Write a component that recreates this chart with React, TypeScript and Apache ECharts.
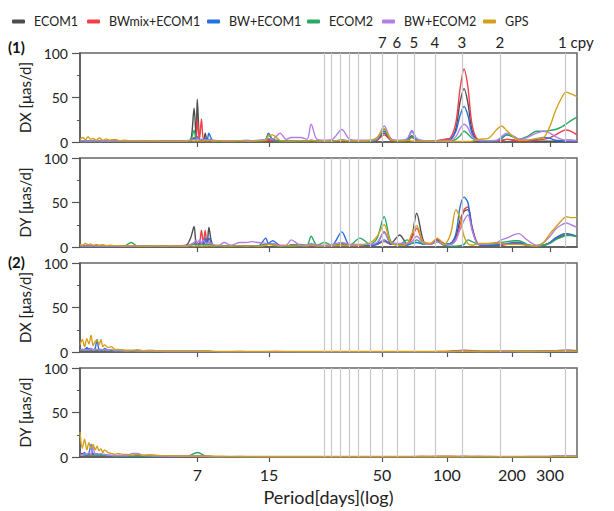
import React, { useEffect, useRef } from 'react';
import * as echarts from 'echarts';

const SERIES_NAMES = ['ECOM1', 'BWmix+ECOM1', 'BW+ECOM1', 'ECOM2', 'BW+ECOM2', 'GPS'];
const COLORS = ['#4d4d4d', '#f0404a', '#2470e0', '#2aa865', '#b47ee8', '#d4a01c'];
const X_TICKS = [7, 15, 50, 100, 200, 300];
const CPY_PERIODS = [351.4, 175.7, 117.1, 87.85, 70.28, 58.57, 50.2, 43.93, 39.04, 35.14, 31.95, 29.28, 27.03];
const CPY_LABELS = ['1 cpy', '2', '3', '4', '5', '6', '7'];
const PANEL_NAMES = ['DX [μas/d]', 'DY [μas/d]', 'DX [μas/d]', 'DY [μas/d]'];
const GROUP_LABELS = ['(1)', '(2)'];

// Period grid for group (1)
const P1 = [2.0, 2.06, 2.12, 2.18, 2.24, 2.3, 2.38, 2.46, 2.55, 2.65,
  2.75, 2.9, 3.05, 3.2, 3.45, 3.7, 4.0, 4.4, 4.8, 5.2,
  5.7, 6.2, 6.5, 6.75, 6.9, 6.98, 7.15, 7.3, 7.45, 7.6,
  7.75, 7.9, 8.2, 8.8, 9.3, 10.0, 11.0, 11.8, 12.5, 13.4,
  14.5, 14.9, 15.6, 16.9, 18.0, 19.0, 21.0, 22.5, 23.5, 25.0,
  27.0, 29.5, 32.6, 35.5, 39.5, 44.2, 47.5, 51.2, 55.0, 60.4,
  65.5, 68.8, 72.4, 78, 84, 90, 97, 104, 110, 115,
  120, 125, 131, 140, 155, 170, 179, 189, 205, 215,
  235, 260, 280, 300, 318, 340, 356, 375, 400];

// (1) DX
const DX1_ECOM1 = [1, 1.5, 1, 1.2, 1, 1.5, 1, 1.2, 1, 1,
  1, 1, 0.8, 1, 0.8, 1, 0.8, 1, 1, 1,
  1, 1.5, 2, 38, 3, 48, 3, 2, 1.5, 10,
  2, 3, 1.5, 1, 1, 1, 1, 1, 1, 1,
  2, 3, 2, 1, 1, 1, 1, 1, 1.5, 1,
  1, 1, 2, 1, 1, 1, 2, 10, 2, 1,
  2, 7, 1.5, 1, 1, 1.5, 2, 3, 15, 45,
  60, 44, 12, 2, 1, 1, 2, 3, 2, 1,
  1, 1, 1, 1, 1, 1.5, 2, 2, 1.5];
const DX1_BWMIX = [1, 1, 1.2, 1, 1.5, 1, 1, 1.2, 1, 1,
  1, 0.8, 1, 0.8, 1, 1, 0.8, 1, 1, 1,
  1, 1, 1.5, 5, 2, 26, 3, 26, 3, 4,
  2, 2, 1, 1, 1, 1, 1, 1, 1, 1,
  2, 2, 1.5, 1, 1, 1, 1, 1, 1, 1,
  1, 1, 1.5, 1, 1, 1, 2, 8, 2, 1,
  1.5, 5, 1.5, 1, 1, 1.5, 3, 5, 22, 60,
  82, 62, 18, 2, 1, 1, 1.5, 3, 2, 1,
  1, 2, 3, 5, 8, 12, 13.5, 12, 8];
const DX1_BW1 = [1, 1, 1, 1.3, 1, 1, 1.2, 1, 1, 1,
  0.8, 1, 1, 1, 1, 0.8, 1, 1, 1, 1,
  1, 1, 1.5, 4, 2, 6, 2, 3, 2, 4,
  2, 10, 2, 1, 1, 1, 1, 1, 1, 1.5,
  3, 10, 3, 1.5, 1, 1, 1, 1, 2, 1,
  1, 1, 2, 1, 1, 1, 3, 12, 3, 1.5,
  3, 12, 3, 1, 1, 1, 1.5, 3, 12, 30,
  40, 30, 9, 2, 1, 1.5, 4, 8, 6, 3,
  2, 3, 5, 4, 2, 1.5, 1, 1, 1];
const DX1_ECOM2 = [1, 1, 1, 1, 1.2, 1, 1, 1, 1.2, 1,
  1, 1, 1, 0.8, 1, 1, 1, 0.8, 1, 1,
  1, 1, 2, 13, 2, 5, 2, 3, 2, 2,
  1.5, 3, 1, 1, 1, 1, 1, 1, 1, 1,
  3, 8, 3, 1, 1, 1, 1, 1, 1.5, 1,
  1, 1, 2, 1, 1, 1, 3, 14, 3, 1,
  2, 6, 2, 1, 1, 1, 1, 1, 3, 7,
  12, 9, 4, 2, 1, 1.5, 5, 8, 5, 3,
  6, 12, 12, 13, 14, 17, 20, 24, 28];
const DX1_BW2 = [1, 1.5, 1, 1, 1.3, 1, 1.5, 1, 1, 1.2,
  1, 1, 1.2, 1, 1, 1.2, 1, 1, 1, 1,
  1, 1.5, 2, 3, 2, 4, 2, 3, 2, 3,
  2, 3, 2, 1.5, 1.5, 1.5, 1.5, 2, 1.5, 2,
  3, 4, 3, 10, 3, 5, 5, 3, 20, 3,
  2, 3, 14, 3, 2, 2, 4, 18, 4, 2,
  4, 13, 4, 1.5, 1, 1, 1.5, 2, 6, 15,
  20, 16, 6, 2, 1.5, 2, 6, 10, 6, 3,
  5, 10, 12, 10, 6, 3, 2, 1.5, 1.5];
const DX1_GPS = [3, 5, 2.5, 6, 3, 4, 2, 4.5, 2, 3.5,
  2, 3, 1.5, 2, 1.5, 1.5, 1, 1.5, 1, 1,
  1, 1, 1.5, 1, 1.5, 1, 1.5, 1, 1, 1.5,
  1, 1.5, 1, 1.5, 1, 1, 1.5, 1, 1, 1.5,
  2, 7, 8, 1.5, 1, 1, 1.5, 1, 2, 1,
  1, 1, 2, 1.5, 1, 2, 5, 15, 3, 1.5,
  2, 1, 1, 1, 1, 1, 0.5, 0.5, 0.5, 0.5,
  0.5, 0.5, 1, 3, 4, 14, 18, 13, 5, 2,
  2, 4, 5, 18, 35, 50, 56, 54, 51];

// (1) DY
const DY1_ECOM1 = [1, 1.5, 1, 1, 1.2, 1, 1, 1.5, 1, 1,
  1, 1, 1, 1, 1, 1, 1, 1, 1, 1.5,
  1.5, 2, 10, 23, 3, 4, 3, 5, 3, 6,
  3, 22, 3, 1, 1.5, 1, 1.5, 1, 1.5, 1,
  3, 4, 3, 1.5, 1, 2, 1, 1, 2, 1,
  1, 1.5, 3, 1.5, 2, 2, 4, 17, 4, 13.5,
  3, 12, 38, 6, 3, 8, 3, 4, 12, 30,
  40, 42, 20, 3, 2, 2, 3, 3, 4, 4,
  2, 1, 2, 5, 9, 12, 13.5, 13, 12];
const DY1_BWMIX = [1, 1, 1.5, 1, 1, 1.2, 1, 1, 1.2, 1,
  1, 1, 1, 1, 1, 1, 1, 1, 1, 1,
  1, 1.5, 2, 4, 2, 3, 4, 19, 4, 19,
  4, 5, 2, 1, 1.5, 1, 1, 1, 1, 1,
  2, 3, 3, 1.5, 1, 2, 1, 1, 2, 1,
  1, 1, 2, 1.5, 1.5, 2, 3, 6, 3, 3,
  3, 10, 21, 5, 4, 9, 4, 3, 8, 25,
  42, 45, 22, 3, 2, 2, 2, 3, 4, 4,
  2, 1, 2, 5, 10, 14, 15, 14, 12];
const DY1_BW1 = [1, 1, 1, 1.5, 1, 1, 1, 1.2, 1, 1,
  1, 1, 1, 1, 1, 1, 1, 1, 1, 1,
  1, 1.5, 2, 4, 2, 4, 3, 5, 3, 10,
  4, 10, 3, 1, 1.5, 1, 1.5, 1, 1.5, 1,
  10, 4, 7, 1.5, 1, 2, 1, 1, 2, 1,
  1, 2, 17, 2, 2, 2, 3, 8, 3, 3,
  2, 4, 5, 3, 3, 6, 3, 4, 15, 45,
  56, 50, 20, 3, 2, 2, 3, 4, 5, 5,
  2, 1, 2, 5, 10, 14, 15, 14, 12];
const DY1_ECOM2 = [1, 1, 1.2, 1, 1, 1, 1.2, 1, 1, 1,
  1, 1, 1, 1, 5, 1, 1, 1, 1, 1,
  1, 1, 2, 4, 2, 3, 2, 3, 2, 3,
  2, 3, 2, 1, 1.5, 1, 1.5, 1, 1.5, 1,
  3, 3, 3, 1.5, 1, 2, 3, 2, 12, 2,
  5, 2, 4, 2, 10, 3, 10, 34, 6, 3,
  8, 4, 8, 3, 3, 6, 2, 1, 1, 1.5,
  3, 8, 6, 3, 3, 4, 5, 6, 7, 7,
  3, 1, 2, 4, 8, 11, 13, 13, 12];
const DY1_BW2 = [1.5, 1, 1, 1.2, 1, 1.5, 1, 1, 1.2, 1,
  1, 1, 1, 1, 1, 1.5, 1, 1, 1, 1,
  1, 1.5, 3, 5, 8, 4, 8, 4, 8, 5,
  4, 6, 3, 2, 5, 2, 5, 5, 6, 5,
  4, 3, 4, 2, 2, 8, 2, 2, 4, 2,
  2, 3, 5, 3, 3, 3, 5, 16, 5, 4,
  4, 6, 12, 4, 3, 6, 3, 3, 8, 20,
  30, 36, 18, 3, 3, 5, 8, 10, 14, 15,
  8, 2, 5, 12, 20, 25, 27, 25, 22];
const DY1_GPS = [3, 2, 4, 2.5, 3.5, 2, 3, 2, 2.5, 1.5,
  2, 1.5, 1.5, 1, 1.5, 1, 1, 1.5, 1, 1.5,
  1, 1, 1.5, 1, 1.5, 1, 1.5, 1, 1, 1.5,
  1, 1.5, 1, 1.5, 1, 1, 1.5, 1, 1.5, 1,
  2, 3, 2, 1, 1.5, 1, 1.5, 1, 2, 1,
  1, 1.5, 2, 1.5, 2, 5, 12, 25, 5, 2,
  4, 15, 24, 5, 4, 10, 3, 15, 42, 32,
  12, 4, 2, 4, 4, 5, 4, 3, 3, 3,
  2, 1, 5, 15, 22, 30, 34, 33, 33];

// Period grid for group (2)
const P2 = [2.0, 2.05, 2.1, 2.15, 2.2, 2.25, 2.3, 2.35, 2.4, 2.45,
  2.5, 2.55, 2.6, 2.7, 2.8, 2.9, 3.0, 3.15, 3.3, 3.5,
  3.7, 3.9, 4.2, 4.5, 4.9, 5.3, 5.8, 6.3, 7.0, 7.8,
  9, 11, 13, 16, 20, 25, 30, 40, 50, 60,
  75, 90, 105, 120, 140, 160, 180, 200, 240, 280,
  320, 360, 400];

// (2) DX
const DX2_ECOM1 = [2, 3, 2, 4, 2, 3, 2, 3, 2, 2.5,
  2, 2, 2, 1.5, 1.5, 1, 1, 1, 1, 1,
  0.8, 0.8, 0.6, 0.6, 0.5, 0.5, 0.5, 0.5, 0.5, 0.5,
  0.3, 0.3, 0.3, 0.3, 0.3, 0.3, 0.3, 0.3, 0.3, 0.3,
  0.3, 0.3, 0.5, 0.8, 0.5, 0.3, 0.5, 0.5, 0.5, 1,
  1.5, 2, 1.5];
const DX2_BWMIX = [2, 2.5, 3, 2, 4, 2, 3, 2, 3, 2,
  2.5, 2, 2, 1.5, 1.5, 1, 1.2, 1, 1, 1,
  0.8, 1, 0.6, 0.8, 0.5, 0.6, 0.5, 0.5, 0.5, 0.5,
  0.3, 0.5, 0.3, 0.5, 0.3, 0.3, 0.3, 0.3, 0.3, 0.3,
  0.3, 0.5, 1, 2, 1, 0.5, 0.5, 0.5, 0.5, 1,
  1.5, 1.5, 1];
const DX2_BW1 = [2, 3, 2, 5, 3, 4, 2, 4, 14, 3,
  3, 2, 4, 2, 1.5, 1.5, 1, 1.5, 1, 1,
  1, 0.8, 0.8, 0.6, 0.5, 0.5, 0.5, 0.5, 0.5, 0.5,
  0.3, 0.3, 0.3, 0.3, 0.3, 0.3, 0.3, 0.3, 0.3, 0.3,
  0.3, 0.3, 0.5, 1, 0.5, 0.5, 0.5, 0.5, 0.5, 0.5,
  0.5, 0.5, 0.5];
const DX2_ECOM2 = [2, 2, 3, 2, 3, 2, 2.5, 2, 3, 2,
  2, 2, 2, 1.5, 1.5, 1, 1, 1, 1, 1,
  0.8, 0.6, 0.6, 0.5, 0.5, 0.5, 0.5, 0.5, 0.5, 0.5,
  0.3, 0.3, 0.3, 0.3, 0.3, 0.3, 0.3, 0.3, 0.3, 0.3,
  0.3, 0.3, 0.5, 0.8, 0.5, 0.5, 0.5, 0.5, 0.5, 0.5,
  0.5, 1, 1];
const DX2_BW2 = [2, 3, 2, 3, 2, 4, 2, 3, 3, 2,
  3, 2, 3, 2, 3, 1.5, 2, 1.5, 1, 1.5,
  1, 1, 1, 0.8, 0.6, 0.5, 0.5, 0.5, 0.5, 0.5,
  0.3, 0.3, 0.3, 0.3, 0.3, 0.3, 0.3, 0.3, 0.3, 0.3,
  0.3, 0.3, 0.5, 1, 0.5, 0.5, 0.5, 0.5, 0.5, 1,
  1, 1, 0.5];
const DX2_GPS = [8, 14, 6, 15, 9, 19, 7, 12, 13, 8,
  14, 6, 8, 5, 6, 3, 3, 2.5, 2, 2,
  2.5, 1.5, 2, 1.5, 1, 1, 1, 1, 1, 0.8,
  0.5, 0.5, 0.5, 0.5, 0.5, 0.5, 0.5, 0.5, 0.5, 0.5,
  0.5, 0.5, 0.5, 0.5, 0.5, 1, 1.5, 1, 0.5, 0.5,
  0.8, 1, 0.8];

// (2) DY
const DY2_ECOM1 = [3, 4, 2, 3, 2, 4, 2, 3, 2, 3,
  2, 2, 2, 1.5, 1.5, 1.5, 1, 1, 1, 1,
  1, 0.8, 0.8, 0.6, 0.5, 0.5, 0.5, 0.5, 0.8, 0.5,
  0.3, 0.3, 0.3, 0.3, 0.3, 0.3, 0.3, 0.3, 0.3, 0.3,
  0.3, 0.3, 0.3, 0.5, 0.3, 0.3, 0.3, 0.3, 0.3, 0.3,
  0.5, 0.5, 0.5];
const DY2_BWMIX = [3, 3, 4, 2, 3, 2, 4, 2, 3, 2,
  3, 2, 2, 1.5, 1.5, 1.5, 1, 1, 1, 1,
  1, 1, 0.8, 0.6, 0.5, 0.5, 0.5, 0.5, 0.5, 0.5,
  0.3, 0.3, 0.3, 0.3, 0.3, 0.3, 0.3, 0.3, 0.3, 0.3,
  0.5, 1, 1, 0.5, 0.5, 0.3, 0.3, 0.3, 0.3, 0.3,
  0.5, 0.5, 0.5];
const DY2_BW1 = [3, 3, 5, 2, 4, 14, 3, 4, 3, 3,
  3, 2, 3, 2, 1.5, 1.5, 1, 1, 1, 1,
  1, 1, 0.8, 0.6, 0.5, 0.5, 0.5, 0.5, 0.5, 0.5,
  0.3, 0.3, 0.3, 0.3, 0.3, 0.3, 0.3, 0.3, 0.3, 0.3,
  0.3, 0.3, 0.3, 0.3, 0.3, 0.3, 0.3, 0.3, 0.3, 0.3,
  0.5, 0.5, 0.5];
const DY2_ECOM2 = [2, 3, 2, 3, 2, 3, 2, 2, 2, 2,
  2, 2, 2, 1.5, 1.5, 1, 1, 1, 1, 1,
  1, 1, 0.8, 0.6, 0.5, 0.5, 0.5, 0.8, 5, 0.5,
  0.3, 0.3, 0.3, 0.3, 0.3, 0.3, 0.3, 0.3, 0.3, 0.3,
  0.5, 0.3, 0.3, 0.3, 0.3, 0.3, 0.3, 0.3, 0.3, 0.3,
  0.3, 0.3, 0.3];
const DY2_BW2 = [3, 2, 4, 3, 5, 3, 12, 3, 4, 3,
  4, 3, 3, 2, 2, 1.5, 2, 1.5, 1.5, 4,
  4, 2, 1.5, 1, 1, 0.8, 0.8, 0.8, 0.8, 0.5,
  0.3, 0.5, 0.3, 0.3, 0.3, 0.3, 0.3, 0.3, 0.3, 0.3,
  0.3, 0.3, 0.3, 0.3, 0.5, 0.5, 0.3, 0.3, 0.5, 0.5,
  1, 1.5, 1];
const DY2_GPS = [28, 10, 20, 8, 16, 10, 14, 8, 12, 7,
  9, 5, 8, 5, 4, 3, 4, 3, 3, 2,
  3, 2, 2.5, 2, 1.5, 1.5, 1, 1, 1, 0.8,
  0.8, 0.5, 0.5, 0.5, 0.5, 0.5, 0.5, 0.5, 0.5, 0.5,
  0.5, 0.5, 0.5, 0.5, 0.5, 0.5, 0.5, 0.5, 0.5, 0.5,
  0.5, 0.5, 0.5];

const PANELS = [
  { periods: P1, values: [DX1_ECOM1, DX1_BWMIX, DX1_BW1, DX1_ECOM2, DX1_BW2, DX1_GPS] },
  { periods: P1, values: [DY1_ECOM1, DY1_BWMIX, DY1_BW1, DY1_ECOM2, DY1_BW2, DY1_GPS] },
  { periods: P2, values: [DX2_ECOM1, DX2_BWMIX, DX2_BW1, DX2_ECOM2, DX2_BW2, DX2_GPS] },
  { periods: P2, values: [DY2_ECOM1, DY2_BWMIX, DY2_BW1, DY2_ECOM2, DY2_BW2, DY2_GPS] },
];

const FONT = 'Lato, "Open Sans", sans-serif';
const TEXT = '#222';
const AXIS = '#555';
const TOPS = [53, 158, 263, 368];
const H = 89;
const LEGEND_LEFT = [7, 82, 202, 302, 377, 478];

export default function App() {
  const ref = useRef<HTMLDivElement>(null);
  useEffect(() => {
    if (!ref.current) return;
    const chart = echarts.init(ref.current, null, { renderer: 'svg' });
    const grid = TOPS.map((t) => ({ left: 80, width: 497, top: t, height: H, show: true, borderColor: '#666', borderWidth: 1.5, backgroundColor: 'transparent' }));
    const xAxis = TOPS.map((_, i) => ({
      type: 'log', gridIndex: i, min: 2, max: 400, logBase: 10,
      axisLine: { show: true, lineStyle: { color: AXIS, width: 1.5 } },
      axisTick: { show: true, inside: false, length: 5, customValues: X_TICKS, lineStyle: { color: AXIS, width: 1.2 } },
      axisLabel: { show: i === 3, customValues: X_TICKS, fontSize: 16, color: TEXT, fontFamily: FONT, margin: 9 },
      splitLine: { show: false }, minorTick: { show: false }, minorSplitLine: { show: false },
      name: i === 3 ? 'Period[days](log)' : '', nameLocation: 'middle', nameGap: 31,
      nameTextStyle: { fontSize: 18, color: TEXT, fontFamily: FONT },
    }));
    const yAxis = TOPS.map((_, i) => ({
      type: 'value', gridIndex: i, min: 0, max: 100, interval: 50,
      axisLine: { show: true, lineStyle: { color: AXIS, width: 1.5 } },
      axisTick: { show: true, inside: false, length: 8, lineStyle: { color: AXIS, width: 1.2 } },
      minorTick: { show: true, splitNumber: 2, length: 3, lineStyle: { color: AXIS, width: 1 } },
      axisLabel: { fontSize: 14, color: TEXT, fontFamily: FONT, margin: 12 },
      splitLine: { show: false },
      name: PANEL_NAMES[i], nameLocation: 'middle', nameGap: 36,
      nameTextStyle: { fontSize: 15, color: TEXT, fontFamily: FONT },
    }));
    const series: any[] = [];
    TOPS.forEach((_, g) => {
      series.push({
        type: 'line', name: '_cpy', xAxisIndex: g, yAxisIndex: g, data: [], z: 1, silent: true,
        markLine: {
          silent: true, symbol: ['none', 'none'], animation: false,
          lineStyle: { color: '#c8c8c8', width: 1.2, type: 'solid' },
          label: { show: false },
          data: CPY_PERIODS.map((p, k) => ({
            xAxis: p,
            label: {
              show: g === 0 && k < CPY_LABELS.length,
              position: 'end', formatter: CPY_LABELS[k] || '',
              fontSize: 15, color: TEXT, fontFamily: FONT, distance: 4,
              ...(k === 0 ? { offset: [11, 0] } : {}),
            },
          })),
        },
      });
      const panel = PANELS[g];
      SERIES_NAMES.forEach((name, s) => {
        series.push({
          type: 'line', name, xAxisIndex: g, yAxisIndex: g, z: 3,
          data: panel.periods.map((p, k) => [p, panel.values[s][k]]),
          showSymbol: false, symbol: 'none', smooth: 0.3,
          lineStyle: { color: COLORS[s], width: 1.4 }, itemStyle: { color: COLORS[s] },
        });
      });
    });
    const legend = SERIES_NAMES.map((name, i) => ({
      data: [name], top: 10, left: LEGEND_LEFT[i], itemWidth: 13, itemHeight: 4, icon: 'roundRect',
      textStyle: { fontSize: 12.5, color: TEXT, fontFamily: FONT, padding: [0, 0, 0, 4] },
    }));
    chart.setOption({
      animation: false,
      textStyle: { fontFamily: FONT },
      legend,
      graphic: GROUP_LABELS.map((t, i) => ({
        type: 'text', left: 8, top: i === 0 ? 39 : 254,
        style: { text: t, fontSize: 15, fontWeight: 'bold', fill: '#111', fontFamily: FONT },
      })),
      grid, xAxis, yAxis, series,
    });
    return () => chart.dispose();
  }, []);
  return <div ref={ref} style={{ position: 'absolute', left: 0, top: 0, width: 614, height: 511 }} />;
}
